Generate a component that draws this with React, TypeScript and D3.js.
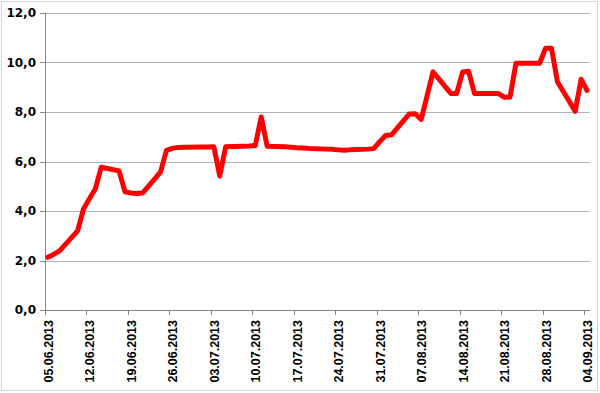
import React from "react";
import * as d3 from "d3";

const dates = [
  "05.06.2013","06.06.2013","07.06.2013","10.06.2013","11.06.2013","12.06.2013","13.06.2013","14.06.2013",
  "17.06.2013","18.06.2013","19.06.2013","20.06.2013","21.06.2013","24.06.2013","25.06.2013","26.06.2013",
  "27.06.2013","28.06.2013","01.07.2013","02.07.2013","03.07.2013","04.07.2013","05.07.2013","08.07.2013",
  "09.07.2013","10.07.2013","11.07.2013","12.07.2013","15.07.2013","16.07.2013","17.07.2013","18.07.2013",
  "19.07.2013","22.07.2013","23.07.2013","24.07.2013","25.07.2013","26.07.2013","29.07.2013","30.07.2013",
  "31.07.2013","01.08.2013","02.08.2013","05.08.2013","06.08.2013","07.08.2013","08.08.2013","09.08.2013",
  "12.08.2013","13.08.2013","14.08.2013","15.08.2013","16.08.2013","19.08.2013","20.08.2013","21.08.2013",
  "22.08.2013","23.08.2013","26.08.2013","27.08.2013","28.08.2013","29.08.2013","30.08.2013","02.09.2013",
  "03.09.2013","04.09.2013",
];

const values = [
  2.13, 2.25, 2.4, 3.2, 4.08, 4.5, 4.9, 5.77,
  5.62, 4.78, 4.73, 4.71, 4.73, 5.57, 6.45, 6.53,
  6.57, 6.58, 6.59, 6.59, 6.6, 5.41, 6.6, 6.62,
  6.63, 6.65, 7.8, 6.62, 6.6, 6.58, 6.56, 6.55,
  6.53, 6.5, 6.49, 6.47, 6.45, 6.47, 6.5, 6.52,
  6.8, 7.05, 7.08, 7.92, 7.93, 7.7, 8.65, 9.62,
  8.75, 8.75, 9.62, 9.65, 8.75, 8.75, 8.75, 8.6,
  8.6, 9.97, 9.97, 9.97, 10.58, 10.58, 9.22, 8.03,
  9.32, 8.87,
];

const xTickLabels = [
  "05.06.2013","12.06.2013","19.06.2013","26.06.2013","03.07.2013","10.07.2013","17.07.2013",
  "24.07.2013","31.07.2013","07.08.2013","14.08.2013","21.08.2013","28.08.2013","04.09.2013",
];

const yTicks = [0, 2, 4, 6, 8, 10, 12];

const parse = d3.utcParse("%d.%m.%Y");

export default function App() {
  const W = 600, H = 393;
  const left = 45, right = 590, top = 13, bottom = 310;
  const start = parse("05.06.2013") as Date;
  const end = d3.utcDay.offset(parse("04.09.2013") as Date, 1);
  const x = d3.scaleUtc().domain([start, end]).range([left, right]);
  const y = d3.scaleLinear().domain([0, 12]).range([bottom, top]);
  const half = (x(d3.utcDay.offset(start, 1)) - x(start)) / 2;
  const fmt = (v: number) => v.toFixed(1).replace(".", ",");

  const pts = dates.map((d, i) => [x(parse(d) as Date) + half, y(values[i])] as [number, number]);
  const line = d3.line().curve(d3.curveLinear)(pts) || "";

  return (
    <svg width={W} height={H} style={{ position: "absolute", left: 0, top: 0, background: "#fff" }}>
      <rect x={1.5} y={1.5} width={596} height={389} fill="#fff" stroke="#d4d4d4" strokeWidth={1} />
      {yTicks.map((t) => (
        <g key={t}>
          {t > 0 && (
            <line x1={left} x2={right} y1={Math.round(y(t)) + 0.5} y2={Math.round(y(t)) + 0.5} stroke="#b3b3b3" strokeWidth={1} />
          )}
          <line x1={left - 5} x2={left} y1={Math.round(y(t)) + 0.5} y2={Math.round(y(t)) + 0.5} stroke="#868686" strokeWidth={1} />
          <text
            x={36}
            y={y(t)}
            dy="0.36em"
            textAnchor="end"
            fontFamily="'DejaVu Sans', sans-serif"
            fontWeight="bold"
            fontSize={12}
            fill="#000"
          >
            {fmt(t)}
          </text>
        </g>
      ))}
      <line x1={left + 0.5} x2={left + 0.5} y1={top} y2={bottom} stroke="#868686" strokeWidth={1} />
      <line x1={left} x2={right} y1={bottom + 0.5} y2={bottom + 0.5} stroke="#868686" strokeWidth={1} />
      {xTickLabels.map((lab) => {
        const d = parse(lab) as Date;
        const tx = Math.round(x(d)) + 0.5;
        const lx = x(d) + half + 0.5;
        return (
          <g key={lab}>
            <line x1={tx} x2={tx} y1={bottom} y2={bottom + 5} stroke="#868686" strokeWidth={1} />
            <text
              transform={`translate(${lx},320) rotate(-90)`}
              dy="0.36em"
              textAnchor="end"
              fontFamily="'Liberation Sans', Arial, sans-serif"
              fontWeight="bold"
              fontSize={12.5}
              fill="#000"
            >
              {lab}
            </text>
          </g>
        );
      })}
      <path d={line} fill="none" stroke="#ff0000" strokeWidth={5} strokeLinejoin="round" strokeLinecap="round" />
    </svg>
  );
}
